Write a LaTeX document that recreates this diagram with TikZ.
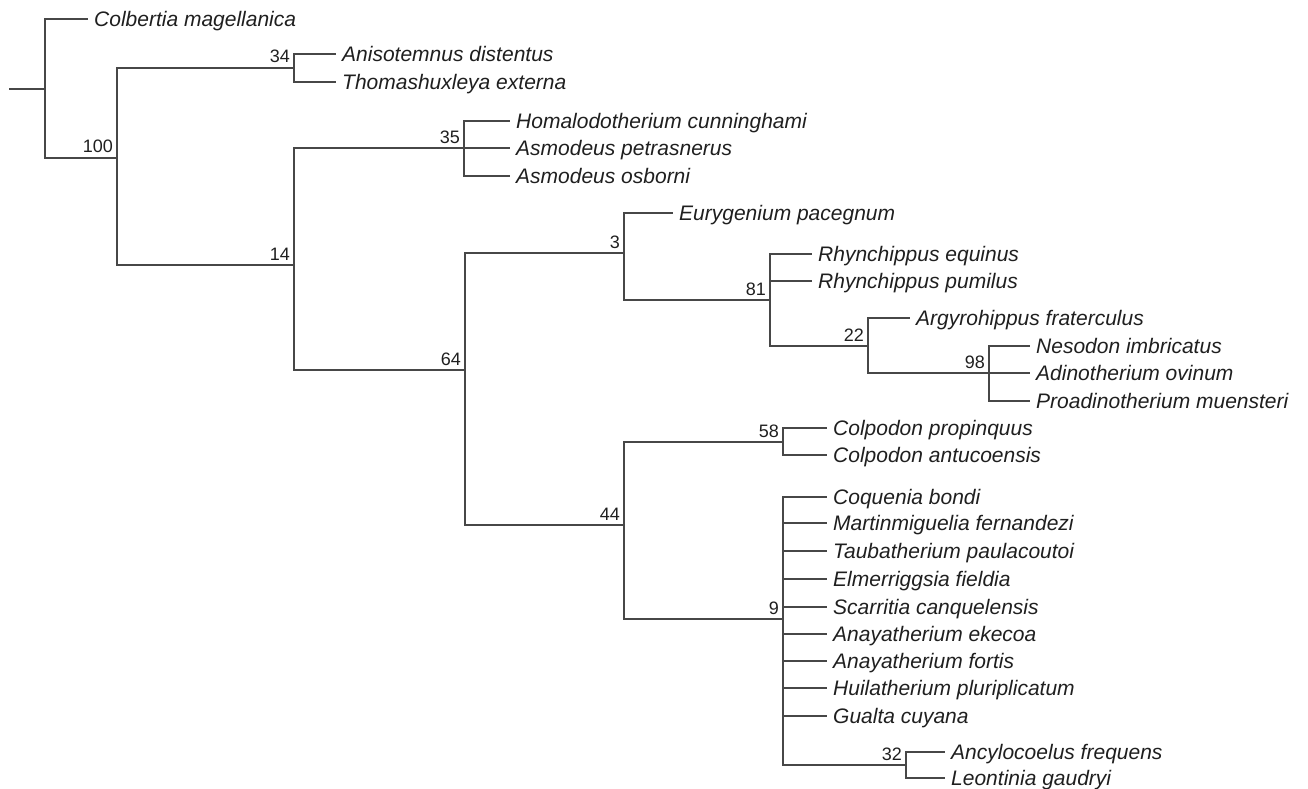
\documentclass[tikz,border=0pt]{standalone}
\usepackage{fontspec}
\setmainfont{Liberation Sans}
\usetikzlibrary{positioning}

\begin{document}
\begin{tikzpicture}[x=1pt, y=-1pt, edge/.style = {draw=black!72, line width=1.2pt}, taxon/.style = {anchor=west, inner xsep=6pt, inner ysep=0pt, text height=15pt, text depth=0pt, text=black!88, font=\fontsize{21}{24}\selectfont\itshape}, support/.style = {anchor=base east, inner sep=0pt, xshift=-4pt, yshift=5pt, text=black!88, font=\fontsize{18}{20}\selectfont}]
	\useasboundingbox (0,0) rectangle (1308,789);
	% internal nodes
	\coordinate (stem) at (9,89);
	\coordinate (root) at (45,89);
	\coordinate (n100) at (117,158);
	\coordinate (n34) at (294,68);
	\coordinate (n14) at (294,265);
	\coordinate (n35) at (464,148);
	\coordinate (n64) at (465,370);
	\coordinate (n3) at (624,253);
	\coordinate (n81) at (770,300);
	\coordinate (n22) at (868,346);
	\coordinate (n98) at (989,373);
	\coordinate (n44) at (624,525);
	\coordinate (n58) at (783,442);
	\coordinate (n9) at (783,619);
	\coordinate (n32) at (906,765);
	% taxa
	\node[taxon] (colbertia) at (88,19) {Colbertia magellanica};
	\node[taxon] (anisotemnus) at (336,54) {Anisotemnus distentus};
	\node[taxon] (thomashuxleya) at (336,82) {Thomashuxleya externa};
	\node[taxon] (homalodotherium) at (510,121) {Homalodotherium cunninghami};
	\node[taxon] (petrasnerus) at (510,148) {Asmodeus petrasnerus};
	\node[taxon] (osborni) at (510,176) {Asmodeus osborni};
	\node[taxon] (eurygenium) at (673,213) {Eurygenium pacegnum};
	\node[taxon] (equinus) at (812,254) {Rhynchippus equinus};
	\node[taxon] (pumilus) at (812,281) {Rhynchippus pumilus};
	\node[taxon] (argyrohippus) at (910,318) {Argyrohippus fraterculus};
	\node[taxon] (nesodon) at (1030,346) {Nesodon imbricatus};
	\node[taxon] (adinotherium) at (1030,373) {Adinotherium ovinum};
	\node[taxon] (proadinotherium) at (1030,401) {Proadinotherium muensteri};
	\node[taxon] (propinquus) at (827,428) {Colpodon propinquus};
	\node[taxon] (antucoensis) at (827,455) {Colpodon antucoensis};
	\node[taxon] (coquenia) at (827,497) {Coquenia bondi};
	\node[taxon] (martinmiguelia) at (827,523) {Martinmiguelia fernandezi};
	\node[taxon] (taubatherium) at (827,551) {Taubatherium paulacoutoi};
	\node[taxon] (elmerriggsia) at (827,579) {Elmerriggsia fieldia};
	\node[taxon] (scarritia) at (827,607) {Scarritia canquelensis};
	\node[taxon] (ekecoa) at (827,634) {Anayatherium ekecoa};
	\node[taxon] (fortis) at (827,661) {Anayatherium fortis};
	\node[taxon] (huilatherium) at (827,688) {Huilatherium pluriplicatum};
	\node[taxon] (gualta) at (827,716) {Gualta cuyana};
	\node[taxon] (ancylocoelus) at (945,752) {Ancylocoelus frequens};
	\node[taxon] (leontinia) at (945,778) {Leontinia gaudryi};
	% branches
	\draw[edge] (stem) -- (root);
	\draw[edge] (root) |- (colbertia.west);
	\draw[edge] (root) |- (n100);
	\draw[edge] (n100) |- (n34);
	\draw[edge] (n100) |- (n14);
	\draw[edge] (n34) |- (anisotemnus.west);
	\draw[edge] (n34) |- (thomashuxleya.west);
	\draw[edge] (n14) |- (n35);
	\draw[edge] (n14) |- (n64);
	\draw[edge] (n35) |- (homalodotherium.west);
	\draw[edge] (n35) |- (petrasnerus.west);
	\draw[edge] (n35) |- (osborni.west);
	\draw[edge] (n64) |- (n3);
	\draw[edge] (n64) |- (n44);
	\draw[edge] (n3) |- (eurygenium.west);
	\draw[edge] (n3) |- (n81);
	\draw[edge] (n81) |- (equinus.west);
	\draw[edge] (n81) |- (pumilus.west);
	\draw[edge] (n81) |- (n22);
	\draw[edge] (n22) |- (argyrohippus.west);
	\draw[edge] (n22) |- (n98);
	\draw[edge] (n98) |- (nesodon.west);
	\draw[edge] (n98) |- (adinotherium.west);
	\draw[edge] (n98) |- (proadinotherium.west);
	\draw[edge] (n44) |- (n58);
	\draw[edge] (n44) |- (n9);
	\draw[edge] (n58) |- (propinquus.west);
	\draw[edge] (n58) |- (antucoensis.west);
	\foreach \t in {coquenia, martinmiguelia, taubatherium, elmerriggsia, scarritia, ekecoa, fortis, huilatherium, gualta}
		\draw[edge] (n9) |- (\t.west);
	\draw[edge] (n9) |- (n32);
	\draw[edge] (n32) |- (ancylocoelus.west);
	\draw[edge] (n32) |- (leontinia.west);
	% support values
	\node[support] (s100) at (n100) {100};
	\node[support] (s34) at (n34) {34};
	\node[support] (s14) at (n14) {14};
	\node[support] (s35) at (n35) {35};
	\node[support] (s64) at (n64) {64};
	\node[support] (s3) at (n3) {3};
	\node[support] (s81) at (n81) {81};
	\node[support] (s22) at (n22) {22};
	\node[support] (s98) at (n98) {98};
	\node[support] (s44) at (n44) {44};
	\node[support] (s58) at (n58) {58};
	\node[support] (s9) at (n9) {9};
	\node[support] (s32) at (n32) {32};
\end{tikzpicture}
\end{document}
